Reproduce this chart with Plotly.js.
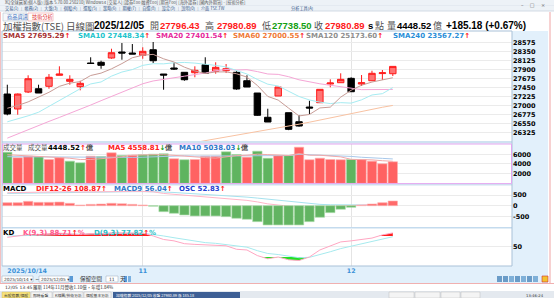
<!DOCTYPE html>
<html><head><meta charset="utf-8">
<script src="https://cdn.plot.ly/plotly-3.0.1.min.js"></script>
<style>html,body{margin:0;padding:0;background:#fff;overflow:hidden}#chart{width:554px;height:298px}</style>
</head><body><div id="chart"></div>
<script>
const dates = ['2025/10/14','2025/10/15','2025/10/16','2025/10/17','2025/10/20','2025/10/21','2025/10/22','2025/10/23','2025/10/27','2025/10/28','2025/10/29','2025/10/30','2025/10/31','2025/11/03','2025/11/04','2025/11/05','2025/11/06','2025/11/07','2025/11/10','2025/11/11','2025/11/12','2025/11/13','2025/11/14','2025/11/17','2025/11/18','2025/11/19','2025/11/20','2025/11/21','2025/11/24','2025/11/25','2025/11/26','2025/11/27','2025/11/28','2025/12/01','2025/12/02','2025/12/03','2025/12/04','2025/12/05'];
const openP  = [27287,26911,27338,27420,27481,27757,27606,27471,28066,28083,28191,28342,28316,28259,28399,27789,27940,27832,27822,28023,27857,27872,27832,27621,27312,26703,27237,26818,26592,26961,27069,27538,27571,27681,27538,27621,27800,27796.43];
const highP  = [27521,27300,27757,27521,27789,27983,27757,27621,28209,28123,28424,28567,28542,28460,28593,27789,28073,27832,27983,28209,28083,28040,27857,27757,27312,26918,27463,26818,26760,27119,27405,27656,27807,27706,27764,27872,27890,27980.89];
const lowP   = [26753,26768,27312,27312,27420,27757,27521,27380,28053,27922,28173,28148,28291,28173,28066,27395,27890,27621,27707,27807,27797,27814,27395,27463,26740,26585,27237,26380,26467,26785,27069,27456,27571,27345,27488,27621,27639,27738.50];
const closeP = [26785,27287,27671,27312,27707,27789,27656,27556,28053,28008,28324,28316,28291,28359,28123,27764,27915,27646,27882,27807,27957,27922,27413,27463,26753,26585,27463,26401,26484,26936,27405,27563,27656,27345,27571,27807,27820,27980.89];
const sma5  = [26930,27000,27090,27200,27330,27480,27560,27600,27752,27812,27919,28051,28198,28260,28283,28171,28090,27961,27866,27803,27841,27843,27796,27712,27502,27227,27135,26933,26737,26774,26938,26958,27209,27381,27508,27588,27634,27695.29];
const sma10 = [26590,26660,26740,26830,26980,27130,27280,27420,27540,27590,27736,27839,27901,28006,28048,28045,28071,28080,28063,28043,28006,27967,27879,27789,27652,27534,27489,27365,27225,27138,27083,27047,27071,27059,27141,27263,27296,27448.34];
const sma20 = [26180,26290,26400,26500,26600,26700,26800,26900,27010,27120,27230,27340,27450,27545,27615,27660,27700,27735,27775,27813,27871,27903,27890,27898,27850,27790,27780,27722,27644,27590,27544,27507,27475,27424,27397,27399,27392,27401.54];
const sma60 = [25260,25300,25345,25390,25435,25480,25525,25570,25615,25660,25705,25750,25795,25840,25885,25930,25975,26020,26065,26110,26155,26200,26245,26290,26335,26380,26430,26480,26530,26580,26635,26690,26745,26800,26855,26905,26955,27000.55];
const volume = [6430,5280,5600,5540,4930,5280,4580,4250,5600,5540,6300,5750,5810,5900,6020,6100,5070,4870,4930,5600,5600,6510,5950,5400,6630,5190,5750,5750,7460,4870,5190,4930,4870,4930,4930,4580,4040,4448.52];
const volUp  = [0,1,1,0,1,1,0,0,1,0,1,0,1,0,0,0,1,0,1,1,1,0,0,1,0,0,1,0,1,1,1,1,1,0,1,1,1,1];
const volMa5  = [5900,5800,5700,5650,5556,5326,5186,4916,4928,5050,5254,5488,5800,5860,5956,5916,5780,5592,5398,5314,5214,5502,5718,5812,6018,5936,5784,5744,6156,5804,5804,5640,5464,4958,4970,4848,4670,4558.81];
const volMa10 = [5500,5480,5460,5440,5420,5400,5380,5350,5320,5303,5290,5337,5358,5394,5503,5585,5634,5696,5629,5635,5565,5641,5655,5605,5666,5575,5643,5731,5984,5911,5870,5712,5604,5557,5387,5326,5155,5038.03];
const dif   = [606,615,642,640,650,663,656,639,649,658,673,674,670,665,650,572,533,488,448,419,390,351,298,249,177,86,32,-22,-76,-84,-67,-35,-7,10,34,53,77,108.87];
const macd9 = [572,581,593,602,612,622,629,631,634,639,646,652,655,657,656,639,618,592,563,534,505,474,439,401,356,302,248,194,140,95,62,43,33,28,29,34,43,56.04];
const osc   = [34,34,49,38,38,41,27,8,15,19,27,22,15,8,-6,-67,-85,-104,-115,-115,-115,-123,-141,-152,-179,-216,-216,-216,-216,-179,-130,-78,-40,-18,4,19,34,52.83];
const kLine = [76,80,84,84,86,88,86,84,87,86,89,89,88,88,80,70,66,58,56,54,54,52,42,40,24,15,20,12,10,20,40,52,63,66,70,74,83,88.71];
const dLine = [80,80,81,82,83,85,85,85,86,86,87,88,88,88,85,80,75,70,65,61,59,56,52,48,38,30,27,22,18,19,26,35,44,51,58,63,70,77.82];
const priceTicks = [26325,26550,26775,27000,27225,27450,27675,27900,28125,28350,28575];
const volTicks = [2000,4000,6000];
const macdTicks = [-500,0,500];
const kdTicks = [50];
const monthStarts = ['2025/11/03','2025/12/01'];
const monthLabels = ['11','12'];
const firstLabel = '2025/10/14';

const W=554,H=298;
const px=x=>x/W, py=y=>1-y/H;
const idx = dates.map((d,i)=>i);
const monthIdx = monthStarts.map(d=>dates.indexOf(d));
const XR=[-0.509,48.44];

function thresholdFill(vals,thr,above){
  const xs=[],ys=[];
  for(let i=0;i<vals.length;i++){
    const v=vals[i];
    if(i>0){const p=vals[i-1]; if((p-thr)*(v-thr)<0){const t=(thr-p)/(v-p); xs.push(i-1+t); ys.push(thr);}}
    xs.push(i); ys.push(above?Math.max(v,thr):Math.min(v,thr));
  }
  return {x:xs.concat(xs.slice().reverse()), y:ys.concat(xs.map(()=>thr))};
}
const redFill=thresholdFill(kLine,80,true), greenFill=thresholdFill(kLine,20,false);

const ln=(y,color,xa,ya)=>({type:'scatter',mode:'lines',x:idx,y:y,xaxis:xa,yaxis:ya,line:{color:color,width:1},hoverinfo:'skip'});
const traces=[
  ln(sma60,'#f8c2a2','x','y'), ln(sma20,'#f5a6d6','x','y'), ln(sma10,'#a6ecf2','x','y'), ln(sma5,'#c89c96','x','y'),
  {type:'candlestick',x:idx,open:openP,high:highP,low:lowP,close:closeP,xaxis:'x',yaxis:'y',whiskerwidth:0,
   increasing:{line:{color:'#ff1a1a',width:1},fillcolor:'#ff7474'},decreasing:{line:{color:'#000000',width:1},fillcolor:'#000000'},hoverinfo:'none'},
  {type:'bar',x:idx,y:volume,xaxis:'x2',yaxis:'y2',width:0.9,marker:{color:volUp.map(u=>u?'#ff6262':'#5fb45f'),line:{width:0.6,color:volUp.map(u=>u?'#ffb0b0':'#a8dca8')}},hoverinfo:'skip'},
  ln(volMa10,'#a8c8ea','x2','y2'), ln(volMa5,'#f2a8a8','x2','y2'),
  {type:'bar',x:idx,y:osc,xaxis:'x3',yaxis:'y4',width:0.9,marker:{color:osc.map(v=>v>=0?'#ff6a6a':'#62b462'),line:{width:0.6,color:osc.map(v=>v>=0?'#ffb4b4':'#a8dca8')}},hoverinfo:'skip'},
  ln(macd9,'#a6e2ee','x3','y3'), ln(dif,'#ffb6c8','x3','y3'),
  {type:'scatter',mode:'lines',x:redFill.x,y:redFill.y,xaxis:'x4',yaxis:'y5',fill:'toself',fillcolor:'#ff1e1e',line:{width:0},hoverinfo:'skip'},
  {type:'scatter',mode:'lines',x:greenFill.x,y:greenFill.y,xaxis:'x4',yaxis:'y5',fill:'toself',fillcolor:'#22e022',line:{width:0},hoverinfo:'skip'},
  ln(dLine,'#a6eaee','x4','y5'), ln(kLine,'#ffa6c2','x4','y5'),
  {type:'scatter',mode:'markers',x:[0],y:[null],xaxis:'x5',yaxis:'y5',hoverinfo:'skip'}
];

const tickFont={family:'DejaVu Sans',size:6.5,color:'#000',weight:'bold'};
const gx=(anchor,show)=>({domain:[px(2),px(512)],range:XR,anchor:anchor,tickvals:monthIdx,ticktext:monthLabels,showticklabels:show,showgrid:true,gridcolor:'#e4e4e4',gridwidth:1,zeroline:false,showline:false,ticks:'',fixedrange:true,automargin:false,rangeslider:{visible:false},
  tickfont:{family:'DejaVu Sans',size:6.3,color:'#3a90d8',weight:'bold'}});
const gy=(dom,range,ticks)=>({domain:dom,range:range,side:'right',tickvals:ticks,ticktext:ticks.map(v=>String(v)),showgrid:true,gridcolor:'#ebebeb',zeroline:false,showline:false,ticks:'',ticklen:0,tickfont:tickFont,fixedrange:true,automargin:false});

const layout={
  width:W,height:H,margin:{l:0,r:0,t:0,b:0,pad:0},paper_bgcolor:'#ffffff',plot_bgcolor:'#ffffff',showlegend:false,hovermode:false,
  boxgap:0.12,bargap:0.1,font:{family:'DejaVu Sans'},
  xaxis:gx('y',false), xaxis2:gx('y2',false), xaxis3:gx('y3',false), xaxis4:gx('y5',true),
  xaxis5:{overlaying:'x4',anchor:'y5',range:XR,tickvals:[0],ticktext:[firstLabel],ticklabelposition:'outside right',showgrid:false,zeroline:false,showline:false,ticks:'',fixedrange:true,
    tickfont:{family:'DejaVu Sans',size:6.3,color:'#3a90d8',weight:'bold'}},
  yaxis:gy([py(141),py(31)],[26108,28869],priceTicks),
  yaxis2:gy([py(183.4),py(144)],[0,8116],volTicks),
  yaxis3:gy([py(227),py(185)],[-995,967],macdTicks),
  yaxis4:{overlaying:'y3',anchor:'x3',range:[-239,232],visible:false,fixedrange:true},
  yaxis5:gy([py(266),py(228.5)],[-5.7,101.3],kdTicks)
};

const R=(x0,y0,x1,y1,fill,line,lw,layer)=>({type:'rect',xref:'paper',yref:'paper',x0:px(x0),x1:px(x1),y0:py(y1),y1:py(y0),fillcolor:fill||'rgba(0,0,0,0)',line:{color:line||'rgba(0,0,0,0)',width:lw||0},layer:layer||'above'});
const L=(x0,y0,x1,y1,color,w)=>({type:'line',xref:'paper',yref:'paper',x0:px(x0),x1:px(x1),y0:py(y0),y1:py(y1),line:{color:color,width:w||1},layer:'above'});
layout.shapes=[
  R(0,0,554,11,'#edf2f7',null,0,'below'),
  L(0,5.5,554,5.5,'#dde4ec',0.6),
  L(0,11,554,11,'#c9d3de',0.8),
  R(3,13,27,21,'#f6f8fb','#b9c3cf',0.6),
  R(28,13,53,21,'#ffffff','#f0a0a0',0.6),
  R(512,31,548,283,'#e2f0fb',null,0,'below'),
  R(0,266,548,283,'#e2f0fb',null,0,'below'),
  R(2,141,512,143.6,'#cfe2f1'),
  R(2,184,512,185.6,'#cfe2f1'),
  R(2,227,512,228.6,'#c4dbee'),
  R(2,31,512,266,null,'#a9c1d8',1),
  R(2.5,144,511.5,183.6,null,'#e4a6f0',1),
  L(550,12,550,283,'#f0a4a4',1),
  L(0.5,12,0.5,283,'#f4c0c0',1),
  L(0,283.5,554,283.5,'#f0b0b0',1),
  R(2,276,33,282,'#ffffff','#9aaabb',0.5),
  R(39,276,69,282,'#ffffff','#9aaabb',0.5),
  R(69.5,276,73,282,'#5a9ad6',null,0),
  R(106,276,118,282,'#ffffff','#9aaabb',0.5),
  R(124,276,127,282,'#5a9ad6',null,0),R(128,276,131,282,'#7ab0e0',null,0),
  R(497,276,502,282,'#6a9cc8',null,0),R(503,276,508,282,'#6a9cc8',null,0),R(509,276,514,282,'#7fb0d8',null,0),R(515,276,520,282,'#6a9cc8',null,0),
  R(521,276,526,282,'#7fb0d8',null,0),R(527,276,532,282,'#6a9cc8',null,0),R(533,276,538,282,'#7fb0d8',null,0),R(542,276,548,282,'#f2c230','#d03030',0.6),
  R(0,291,554,298,'#e4e9ef',null,0,'below'),
  R(2,292,30,298,'#f7e27a','#c8b060',0.4),R(31,292,52,298,'#f4f4f4','#b0b0b0',0.4),R(53,292,83,298,'#f4f4f4','#b0b0b0',0.4),R(84,292,111,298,'#f4f4f4','#b0b0b0',0.4),
  R(113,292,240,298,'#3d5f95',null,0),
  R(389,292,414,298,'#f4f4f4','#b0b0b0',0.4),R(415,292,440,298,'#f4f4f4','#b0b0b0',0.4),R(441,292,460,298,'#f4f4f4','#b0b0b0',0.4),R(461,292,480,298,'#f4f4f4','#b0b0b0',0.4)
];

function T(x,y,text,color,size,bold,family){
  return {xref:'paper',yref:'paper',x:px(x),y:py(y),xanchor:'left',yanchor:'middle',showarrow:false,borderpad:0,text:text,
    font:{family:family||'DejaVu Sans',size:size,color:color,weight:bold?'bold':'normal'}};
}
const CJK='Noto Sans CJK TC', HF='Liberation Sans', HS=9.5;
const up='<span style="color:#ff1010">↑</span>', dn='<span style="color:#10a010">↓</span>';
layout.annotations=[
  T(4,2.8,'XQ全球贏家(個人版) [版本 5.70.00.250210] Window14 [交易人] [證券E00 融資E00] [期貨F00] [海外證券] [國內外期貨] - [技術分析]','#555',4.2,false,CJK),
  T(4,8.2,'交易(1) │ 帳務(2) │ 大盤(3) │ 個股(4) │ 選股(5) │ 策略(6) │ 期權(7) │ 自選(8) │ 設定(9) │ 說明(0) │ 介面 TSE.TW','#3a5a8a',4.2,false,CJK),
  T(290,8.2,'分析工具(A)','#3a5a8a',4.2,false,CJK),
  T(520,4.5,'–    □    ×','#666',5,false,'DejaVu Sans'),
  T(6,17,'商品資訊','#3a70c0',5.2,false,CJK),
  T(31,17,'技術分析','#e03030',5.2,false,CJK),
  T(2,26,'加權指數(TSE)','#505050',9.5,false,CJK),
  T(65,26,'日線圖','#505050',9.5,false,CJK),
  T(93,26,'2025/12/05','#000',HS+0.5,true,HF),
  T(149,26,'開','#505050',9,false,CJK),
  T(159,26,'27796.43','#ff1a1a',HS,true,HF),
  T(204,26,'高','#505050',9,false,CJK),
  T(216,26,'27980.89','#ff1a1a',HS,true,HF),
  T(261,26,'低','#505050',9,false,CJK),
  T(271,26,'27738.50','#12a012',HS,true,HF),
  T(313,26,'收','#505050',9,false,CJK),
  T(324,26,'27980.89','#ff1a1a',HS,true,HF),
  T(367,26,'s','#000',HS,true,HF),
  T(374,26,'點','#505050',9,false,CJK),
  T(386,26,'量','#505050',9,false,CJK),
  T(396,26,'4448.52','#000',HS,true,HF),
  T(432,26,'億','#505050',9,false,CJK),
  T(445,26,'+185.18 (+0.67%)','#000',HS+0.5,true,HF),
  T(2,36,'SMA5 27695.29'+up,'#a83232',7,true),
  T(77,36,'SMA10 27448.34'+up,'#22c4cc',7,true),
  T(155,36,'SMA20 27401.54'+up,'#e62a9c',7,true),
  T(232,36,'SMA60 27000.55'+up,'#f07a36',7,true),
  T(305,36,'SMA120 25173.60'+up,'#8e8e8e',7,true),
  T(392,36,'SMA240 23567.27'+up,'#2a8ed8',7,true),
  T(2,147,'成交量','#555',6.5,false,CJK),
  T(27,147,'成交量','#555',6.5,false,CJK),
  T(47,147,'4448.52'+up+'<span style="color:#555">億</span>','#000',7,true),
  T(107,147,'MA5 4558.81'+dn+'<span style="color:#555">億</span>','#ff2020',7,true),
  T(178,147,'MA10 5038.03'+dn+'<span style="color:#555">億</span>','#2f78c8',7,true),
  T(2,188.5,'MACD','#000',7,true),
  T(35,188.5,'DIF12-26 108.87'+up,'#ff2020',7,true),
  T(113,188.5,'MACD9 56.04'+up,'#2f78c8',7,true),
  T(178,188.5,'OSC 52.83'+up,'#1f3fd0',7,true),
  T(2,232.5,'KD','#000',7,true),
  T(22,232.5,'K(9,3) 88.71'+up+'%','#ff5a8c',7,true),
  T(93,232.5,'D(9,3) 77.82'+up+'%','#30c0c8',7,true),
  T(3,279,'2025/10/14 ▾','#333',4.3,false),
  T(34,279,'~','#333',5,false),
  T(40,279,'2025/12/05 ▾','#333',4.3,false),
  T(79,279,'保留空間','#333',5.5,false,CJK),
  T(108,279,'11','#333',4.5,false),
  T(119,279,'天','#333',5.5,false,CJK),
  T(4,287.8,'12/05 13:45','#333',4.5,false),
  T(32,287.8,'羅斯 114年11月營收1.10億，年增1.84%','#333',4.5,false,CJK),
  T(3,295,'台股指數/個股','#333',3.8,false,CJK),
  T(32,295,'即時看盤','#333',3.8,false,CJK),
  T(54,295,'K線圖/技術分析','#333',3.8,false,CJK),
  T(85,295,'個股基本分析','#333',3.8,false,CJK),
  T(115,295,'加權指數 2025/12/05 收盤 27980.89 漲 185.18','#ffffff',3.8,false,CJK),
  T(525,295,'13:46:24','#333',3.8,false)
];

Plotly.newPlot('chart',traces,layout,{staticPlot:true,displayModeBar:false});
</script></body></html>
